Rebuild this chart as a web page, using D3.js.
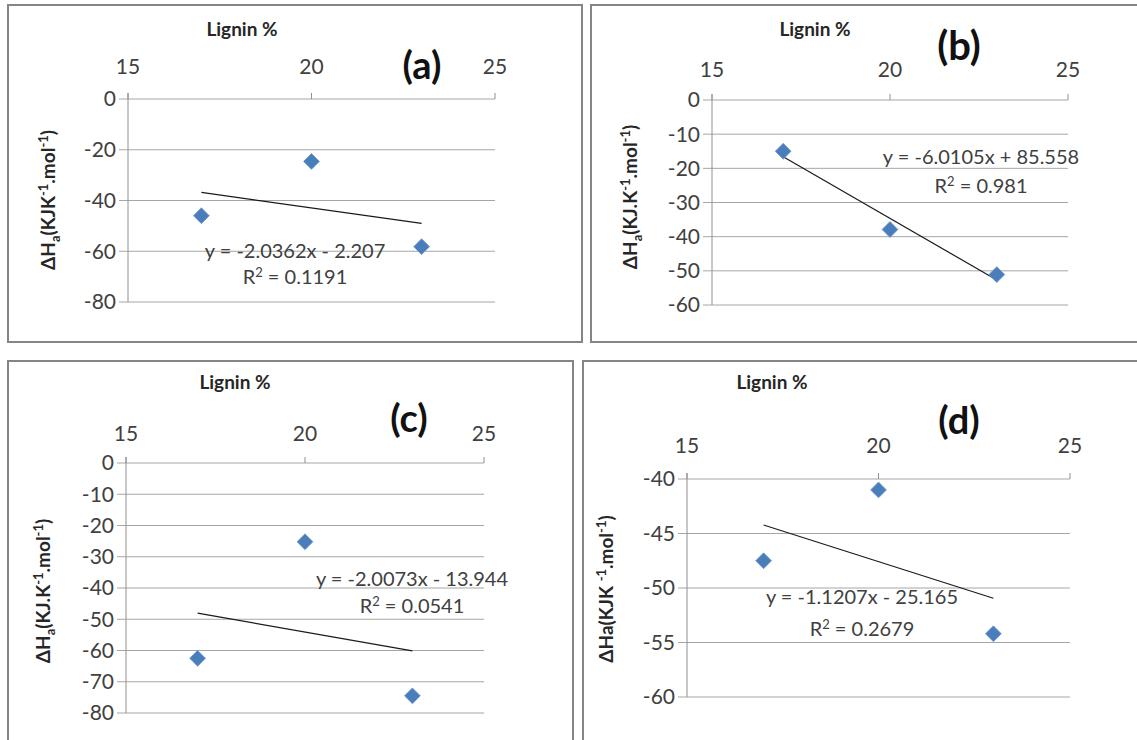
<!DOCTYPE html>
<html>
<head>
<meta charset="utf-8">
<script src="https://d3js.org/d3.v7.min.js"></script>
<style>
  body { margin: 0; background: #fff; }
  svg { display: block; font-family: Lato, "Open Sans", sans-serif; }
</style>
</head>
<body>
<div id="chart"></div>
<script>
// data
var lignin = [17, 20, 23];
var dhA = [-46.0, -24.6, -58.2];
var dhB = [-15.0, -37.9, -51.1];
var dhC = [-62.5, -25.2, -74.5];
var dhD = [-47.5, -41.0, -54.2];

var slopes = [-2.0362, -6.0105, -2.0073, -1.1207];
var intercepts = [-2.207, 85.558, -13.944, -25.165];
var eqLabels = ["y = -2.0362x - 2.207", "y = -6.0105x + 85.558", "y = -2.0073x - 13.944", "y = -1.1207x - 25.165"];
var r2Labels = ["0.1191", "0.981", "0.0541", "0.2679"];
var tags = ["(a)", "(b)", "(c)", "(d)"];

var xTicks = [15, 20, 25];
var yTicksA = [0, -20, -40, -60, -80];
var yTicksB = [0, -10, -20, -30, -40, -50, -60];
var yTicksC = [0, -10, -20, -30, -40, -50, -60, -70, -80];
var yTicksD = [-40, -45, -50, -55, -60];

var series = [dhA, dhB, dhC, dhD];
var yTickSets = [yTicksA, yTicksB, yTicksC, yTicksD];

// y label pieces: [text, shift]
var yLabels = [
    [["ΔH", 0], ["a", -1], ["(KJK", 0], ["-1", 1], [".mol", 0], ["-1", 1], [")", 0]],
    [["ΔH", 0], ["a", -1], ["(KJ.K", 0], ["-1", 1], [".mol", 0], ["-1", 1], [")", 0]],
    [["ΔH", 0], ["a", -1], ["(KJ.K", 0], ["-1", 1], [".mol", 0], ["-1", 1], [")", 0]],
    [["ΔHa(KJK ", 0], ["-1", 1], [".mol", 0], ["-1", 1], [")", 0]]
];

// layout of each panel (pixels)
var panels = [
    {box: [8, 5, 582, 342], px: [128, 495], py: [99, 302], title: [242, 36], tag: [422, 79, 38], tickY: 74, ylab: [55, 200], eq: [295, 258], r2y: 284},
    {box: [591, 5, 1160, 342], px: [712, 1068], py: [100, 305], title: [815, 36], tag: [959, 60, 40], tickY: 77, ylab: [637, 197], eq: [981, 164], r2y: 193},
    {box: [8, 361, 573, 760], px: [126, 484], py: [463, 713], title: [235, 389], tag: [409, 432, 38], tickY: 441, ylab: [50, 591], eq: [412, 586], r2y: 613},
    {box: [583, 361, 1160, 760], px: [687, 1070], py: [479, 697], title: [772, 389], tag: [959, 434, 38], tickY: 453, ylab: [613, 589], eq: [862, 604], r2y: 636}
];

var svg = d3.select("#chart").append("svg")
    .attr("width", 1137)
    .attr("height", 740);

panels.forEach(function(p, i) {
    var g = svg.append("g");
    var yt = yTickSets[i];

    var x = d3.scaleLinear().domain([15, 25]).range(p.px);
    var y = d3.scaleLinear().domain([d3.min(yt), d3.max(yt)]).range([p.py[1], p.py[0]]);

    // panel frame
    g.append("rect")
        .attr("x", p.box[0]).attr("y", p.box[1])
        .attr("width", p.box[2] - p.box[0]).attr("height", p.box[3] - p.box[1])
        .attr("fill", "none")
        .attr("stroke", "#858585")
        .attr("stroke-width", 2);

    // gridlines + y ticks
    g.selectAll(".grid")
        .data(yt)
        .enter().append("line")
        .attr("x1", p.px[0] - 9).attr("x2", p.px[1])
        .attr("y1", function(d) { return y(d); })
        .attr("y2", function(d) { return y(d); })
        .attr("stroke", "#a6a6a6")
        .attr("stroke-width", 1);

    g.selectAll(".ytl")
        .data(yt)
        .enter().append("text")
        .attr("x", p.px[0] - 12)
        .attr("y", function(d) { return y(d); })
        .attr("dy", "0.35em")
        .attr("text-anchor", "end")
        .attr("fill", "#404040")
        .style("font-size", "21px")
        .text(function(d) { return d; });

    // y axis line
    g.append("line")
        .attr("x1", p.px[0]).attr("x2", p.px[0])
        .attr("y1", p.py[0] - 6).attr("y2", p.py[1])
        .attr("stroke", "#909090");

    // x axis on top with ticks pointing up
    g.selectAll(".xt")
        .data(xTicks)
        .enter().append("line")
        .attr("x1", function(d) { return x(d); })
        .attr("x2", function(d) { return x(d); })
        .attr("y1", p.py[0] - 6).attr("y2", p.py[0])
        .attr("stroke", "#909090");

    g.selectAll(".xtl")
        .data(xTicks)
        .enter().append("text")
        .attr("x", function(d) { return x(d); })
        .attr("y", p.tickY)
        .attr("text-anchor", "middle")
        .attr("fill", "#404040")
        .style("font-size", "21px")
        .text(function(d) { return d; });

    // axis title
    g.append("text")
        .attr("x", p.title[0]).attr("y", p.title[1])
        .attr("text-anchor", "middle")
        .attr("fill", "#262626")
        .style("font-size", "19px")
        .style("font-weight", "bold")
        .text("Lignin %");

    // panel tag
    g.append("text")
        .attr("x", p.tag[0]).attr("y", p.tag[1])
        .attr("text-anchor", "middle")
        .attr("fill", "#111")
        .style("font-size", p.tag[2] + "px")
        .style("font-weight", "bold")
        .text(tags[i]);

    // y label
    var yl = g.append("text")
        .attr("transform", "translate(" + p.ylab[0] + "," + p.ylab[1] + ") rotate(-90)")
        .attr("text-anchor", "middle")
        .attr("dy", "0.35em")
        .attr("fill", "#262626")
        .style("font-size", "19px")
        .style("font-weight", "bold");
    var shift = 0;
    yLabels[i].forEach(function(part) {
        var dy = 0;
        if (part[1] === 1) dy = -7 - shift;
        else if (part[1] === -1) dy = 5 - shift;
        else dy = -shift;
        shift += dy;
        yl.append("tspan")
            .attr("dy", dy)
            .style("font-size", part[1] === 0 ? "19px" : "13px")
            .text(part[0]);
    });

    // trend line
    var xs = d3.extent(lignin);
    g.append("line")
        .attr("x1", x(xs[0])).attr("y1", y(slopes[i] * xs[0] + intercepts[i]))
        .attr("x2", x(xs[1])).attr("y2", y(slopes[i] * xs[1] + intercepts[i]))
        .attr("stroke", "#1a1a1a")
        .attr("stroke-width", 1.2);

    // points
    g.selectAll(".pt")
        .data(lignin.map(function(d, k) { return [d, series[i][k]]; }))
        .enter().append("path")
        .attr("d", d3.symbol().type(d3.symbolSquare).size(125))
        .attr("transform", function(d) { return "translate(" + x(d[0]) + "," + y(d[1]) + ") rotate(45)"; })
        .attr("fill", "#4a7ebb")
        .attr("stroke", "#6f98cc")
        .attr("stroke-width", 0.8);

    // equation
    g.append("text")
        .attr("x", p.eq[0]).attr("y", p.eq[1])
        .attr("text-anchor", "middle")
        .attr("fill", "#404040")
        .style("font-size", "20px")
        .text(eqLabels[i]);

    var r2 = g.append("text")
        .attr("x", p.eq[0]).attr("y", p.r2y)
        .attr("text-anchor", "middle")
        .attr("fill", "#404040")
        .style("font-size", "20px");
    r2.append("tspan").text("R");
    r2.append("tspan").attr("dy", -7).style("font-size", "13px").text("2");
    r2.append("tspan").attr("dy", 7).text(" = " + r2Labels[i]);
});
</script>
</body>
</html>
